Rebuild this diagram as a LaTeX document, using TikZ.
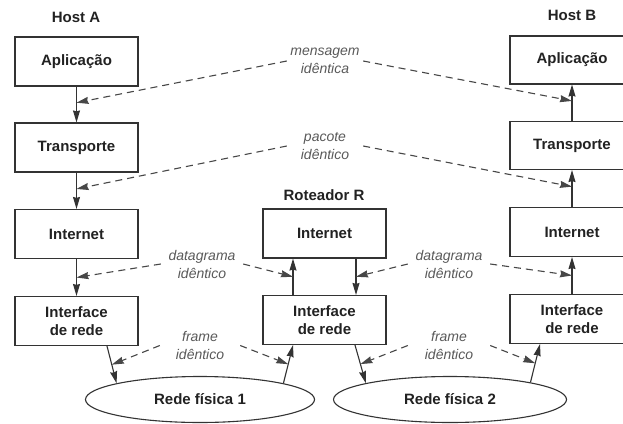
\documentclass[tikz,border=0pt]{standalone}
\usepackage{fontspec}
\setmainfont{Liberation Sans}
\usetikzlibrary{arrows.meta,calc,shapes.geometric}
\definecolor{ink}{HTML}{333333}
\definecolor{lbl}{HTML}{5A5A5A}
\definecolor{txt}{HTML}{222222}
\begin{document}
\begin{tikzpicture}[x=1pt,y=-1pt,
  box/.style={draw=ink, line width=1.1pt, minimum width=123pt, minimum height=49pt, inner sep=0pt,
    font=\fontsize{15}{18}\selectfont\bfseries, text=txt, align=center},
  ttl/.style={font=\fontsize{15}{18}\selectfont\bfseries, text=txt, inner sep=0pt},
  net/.style={draw=ink, line width=1.1pt, ellipse, minimum width=231pt, minimum height=46pt, inner sep=0pt,
    font=\fontsize{15}{18}\selectfont\bfseries, text=txt},
  lab/.style={font=\fontsize{14}{18}\selectfont\itshape, text=lbl, align=center, inner sep=0pt},
  flow/.style={draw=ink, line width=1.1pt, -{Stealth[length=12pt,width=7pt,inset=1pt]}},
  peer/.style={draw=ink!90, line width=1.1pt, dash pattern=on 7pt off 5pt, -{Stealth[length=12pt,width=7pt,inset=1pt]}}]

\useasboundingbox[fill=white] (0,0) rectangle (623,423);

% titles
\node[ttl] (hA) at (76,17) {Host A};
\node[ttl] (hB) at (572,15) {Host B};
\node[ttl] (hR) at (324,195) {Roteador R};

% Host A
\node[box] (aA) at (76.5,61.5) {Aplicação};
\node[box] (tA) at (76.5,147.5) {Transporte};
\node[box] (iA) at (76.5,234) {Internet};
\node[box] (nA) at (76.5,321) {Interface\\de rede};

% Router
\node[box] (iR) at (324.5,233.5) {Internet};
\node[box] (nR) at (324.5,320) {Interface\\de rede};

% Host B
\node[box, minimum width=124pt, minimum height=48pt] (aB) at (572,60) {Aplicação};
\node[box, minimum width=124pt, minimum height=48pt] (tB) at (572,145.5) {Transporte};
\node[box, minimum width=124pt] (iB) at (572,232) {Internet};
\node[box, minimum width=124pt] (nB) at (572,319) {Interface\\de rede};

% networks
\node[net, minimum width=229pt] (e1) at (200,399.5) {Rede física 1};
\node[net, minimum width=233pt] (e2) at (450,399.5) {Rede física 2};

% helper coordinates on box borders
\coordinate (nAo) at ([xshift=30.5pt]nA.south);
\coordinate (rUpA) at ([xshift=-31.5pt]nR.south);
\coordinate (rUpB) at ([xshift=-31.5pt]nR.north);
\coordinate (rUpC) at ([xshift=-31.5pt]iR.south);
\coordinate (rDnA) at ([xshift=31.5pt]iR.south);
\coordinate (rDnB) at ([xshift=31.5pt]nR.north);
\coordinate (rDnC) at ([xshift=30.5pt]nR.south);
\coordinate (nBi) at ([xshift=-32pt]nB.south);

% vertical flow Host A (down)
\draw[flow] (aA.south) -- (tA.north);
\draw[flow] (tA.south) -- (iA.north);
\draw[flow] (iA.south) -- (nA.north);
\draw[flow] (nAo) -- (e1.169);

% router
\draw[flow] (e1.11) -- (rUpA);
\draw[flow] (rUpB) -- (rUpC);
\draw[flow] (rDnA) -- (rDnB);
\draw[flow] (rDnC) -- (e2.169);

% Host B (up)
\draw[flow] (e2.12) -- (nBi);
\draw[flow] (nB.north) -- (iB.south);
\draw[flow] (iB.north) -- (tB.south);
\draw[flow] (tB.north) -- (aB.south);

% peer labels
\node[lab, minimum width=76pt] (m) at (325,61) {mensagem\\idêntica};
\node[lab, minimum width=76pt] (p) at (325,146) {pacote\\idêntico};
\node[lab, minimum width=82pt] (d1) at (202,264) {datagrama\\idêntico};
\node[lab, minimum width=82pt] (d2) at (449,264) {datagrama\\idêntico};
\node[lab, minimum width=80pt] (f1) at (200,345.5) {frame\\idêntico};
\node[lab, minimum width=82pt] (f2) at (449,345.5) {frame\\idêntico};

% peer connectors
\draw[peer] (m.west) -- ($(aA.south)!0.45!(tA.north)$);
\draw[peer] (m.east) -- ($(aB.south)!0.45!(tB.north)$);
\draw[peer] (p.west) -- ($(tA.south)!0.45!(iA.north)$);
\draw[peer] (p.east) -- ($(tB.south)!0.45!(iB.north)$);
\draw[peer] (d1.west) -- ($(iA.south)!0.5!(nA.north)$);
\draw[peer] (d1.east) -- ($(rUpB)!0.5!(rUpC)$);
\draw[peer] (d2.west) -- ($(rDnA)!0.5!(rDnB)$);
\draw[peer] (d2.east) -- ($(iB.south)!0.5!(nB.north)$);
\draw[peer] (f1.west) -- ($(nAo)!0.5!(e1.169)$);
\draw[peer] (f1.east) -- ($(e1.11)!0.5!(rUpA)$);
\draw[peer] (f2.west) -- ($(rDnC)!0.5!(e2.169)$);
\draw[peer] (f2.east) -- ($(e2.12)!0.5!(nBi)$);
\end{tikzpicture}
\end{document}
